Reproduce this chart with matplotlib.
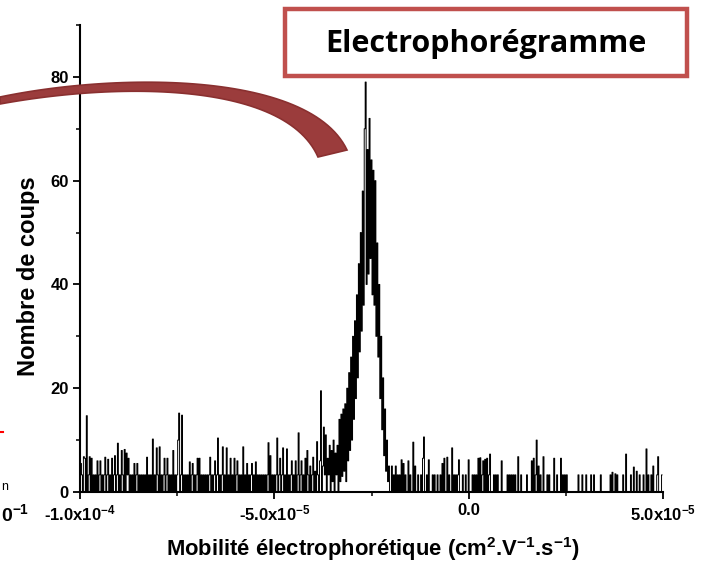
import numpy as np
import matplotlib
matplotlib.use('Agg')
from matplotlib import pyplot as plt
from matplotlib.patches import Polygon, Rectangle
from matplotlib.ticker import MultipleLocator, FixedLocator, FixedFormatter

W, H = 715, 567

# histogram bins of electrophoretic mobility (cm2.V-1.s-1)
MOB_START = -1.0e-4
MOB_STEP = 2.5e-7

# counts, one value per bin, split by region
counts_left = [
    0, 5.5, 3.3, 0, 6.8, 6.5, 0, 14.7, 0, 3.3, 6.8, 0, 6.5, 0, 3.3, 0, 3.3, 0, 6, 0,
    3.3, 6, 0, 3.3, 0, 3.3, 6.7, 0, 3.3, 6.3, 0, 3.3, 0, 6.5, 0, 3.3, 7, 0, 3.3, 9.4,
    0, 3.3, 0, 8, 3.3, 0, 8.2, 0, 7.5, 3.3, 6.5, 0, 3.3, 0, 3.3, 0, 5.5, 0, 3.3, 5.5,
    0, 3.3, 0, 3.3, 0, 3.3, 0, 3.3, 0, 6.7, 0, 3.3, 0, 3.3, 0, 10.2, 0, 3.3, 0, 8.5,
    3.3, 0, 8.7, 0, 3.3, 0, 3.3, 6.5, 0, 3.3, 6.5, 0, 3.3, 0, 3.3, 0, 8, 0, 3.3, 0,
    3.3, 10, 15.2, 0, 3.3, 14.8, 0, 3.3, 0, 3.3, 0, 3.3, 0, 5.8, 0, 3.3, 5.5, 0, 3.3, 0,
    3.3, 6.5, 0, 6.5, 0, 3.3, 0, 3.3, 0, 3.3, 0, 3.3, 0, 3.3, 6.7, 0, 3.3, 0, 3.3, 6,
    0, 3.3, 10.4, 0, 3.3, 0, 3.3, 8.7, 0, 3.3, 0, 8.5, 0, 3.3, 0, 6.5, 0, 3.3, 0, 6.5,
    0, 3.3, 6, 0, 3.3, 0, 3.3, 0, 8.7, 0, 3.3, 0, 5.5, 0, 3.3, 0, 3.3, 5.5, 0, 3.3,
    0, 5.8, 0, 3.3, 0, 3.3, 0, 3.3, 0, 3.3, 0, 3.3, 0, 3.3, 9.5, 0, 7, 0, 3.3, 0,
    3.3, 0, 3.3, 10.4, 0, 3.3, 6.5, 0, 3.3, 8.5, 0, 3.3, 0, 8.3, 0, 3.3, 0, 3.3, 6, 0,
]
counts_rise = [
    3.3, 0, 6, 0, 3.3, 11.4, 0, 3.3, 6, 0, 3.3, 0, 6.5, 0, 8, 3.3, 0, 5, 0, 3.3,
    6.7, 0, 4, 0, 9.7, 3.3, 0, 6, 19.5, 0, 5, 12.5, 3.3, 11, 0, 6.5, 3.3, 9, 0, 8,
    2, 10, 0, 7.5, 3.3, 9, 0, 14, 2, 15,
]
counts_peak = [
    3, 16, 4, 17, 2, 20, 6, 23, 8, 26, 10, 30, 14, 33, 18, 38, 22, 44, 27, 50,
    31, 58, 36, 70, 79, 40, 66, 42, 72, 45, 64, 38, 62, 36, 60, 30, 48, 26, 40, 18,
    30, 12, 22, 7, 16, 4, 10, 2, 5, 0,
]
counts_right = [
    0, 5, 0, 3.3, 0, 5, 0, 3.3, 0, 3.3, 0, 6.2, 0, 5.5, 0, 3.3, 0, 0, 6, 0,
    3.3, 0, 0, 9.6, 0, 5, 0, 0, 3.3, 0, 0, 3.3, 0, 6.5, 10.6, 0, 0, 3.3, 0, 6.2,
    0, 0, 0, 3.3, 0, 3.3, 0, 0, 3.3, 0, 0, 3.3, 0, 5.5, 0, 6.5, 0, 0, 6.7, 0,
    3.3, 0, 0, 8.5, 0, 3.3, 0, 3.3, 0, 3.3, 6.2, 0, 0, 0, 3.3, 0, 0, 3.3, 0, 0,
    6.2, 0, 0, 0, 3.3, 0, 3.3, 0, 3.3, 0, 6.5, 0, 6.6, 0, 3.3, 6, 0, 6.3, 0, 6.5,
    0, 3.3, 7.3, 0, 0, 0, 3.3, 0, 3.3, 0, 3.3, 0, 0, 0, 6, 0, 0, 0, 0, 0,
    3.3, 0, 3.3, 0, 3.3, 0, 3.3, 0, 3.3, 0, 0, 6.8, 0, 0, 3.3, 0, 0, 0, 0, 0,
    3.3, 0, 0, 0, 0, 6, 0, 6.5, 0, 3.3, 10, 0, 5, 0, 3.3, 0, 0, 6.8, 0, 0,
    0, 3.3, 0, 3.3, 0, 0, 0, 0, 6.5, 0, 0, 3.3, 0, 0, 0, 6.5, 0, 3.3, 0, 3.3,
    0, 3.3, 0, 0, 0, 0, 0, 0, 0, 0, 0, 0, 0, 3.3, 0, 0, 0, 3.3, 0, 0,
    0, 3.3, 0, 0, 0, 0, 3.3, 0, 0, 3.3, 0, 0, 0, 0, 0, 0, 3.3, 0, 0, 0,
    0, 0, 0, 0, 0, 0, 3.3, 0, 3.8, 0, 0, 3.5, 0, 3.3, 0, 0, 0, 0, 0, 3.3,
    0, 0, 7.3, 0, 0, 0, 0, 3.3, 0, 0, 4.8, 0, 0, 4, 0, 0, 3.3, 0, 0, 0,
    3.3, 0, 0, 8.3, 0, 3.3, 0, 0, 3.3, 0, 5, 0, 0, 0, 3.3, 6.8, 0, 0, 0, 3.3,
]

xtick_vals = [-1.0e-4, -5.0e-5, 0.0, 5.0e-5]
xtick_labels = [r'-1.0x10$^{-4}$', r'-5.0x10$^{-5}$', '0.0', r'5.0x10$^{-5}$']
ytick_vals = [0, 20, 40, 60, 80]

TITLE = 'Electrophorégramme'
XLABEL = r'Mobilité électrophorétique (cm$^{2}$.V$^{-1}$.s$^{-1}$)'
YLABEL = 'Nombre de coups'


def fig_xy(x, y):
    """pixel position (from top left) -> figure fraction"""
    return x / W, 1 - y / H


def bezier(p0, p1, p2, p3, n=60):
    t = np.linspace(0, 1, n)[:, None]
    p0, p1, p2, p3 = (np.array(p) for p in (p0, p1, p2, p3))
    return ((1 - t) ** 3 * p0 + 3 * (1 - t) ** 2 * t * p1
            + 3 * (1 - t) * t ** 2 * p2 + t ** 3 * p3)


def _main():
    plt.rcParams['font.family'] = ['Liberation Sans', 'DejaVu Sans']
    plt.rcParams['font.weight'] = 'bold'
    plt.rcParams['mathtext.fontset'] = 'custom'
    plt.rcParams['mathtext.rm'] = 'Liberation Sans:bold'
    plt.rcParams['mathtext.bf'] = 'Liberation Sans:bold'
    plt.rcParams['mathtext.default'] = 'bf'

    counts = counts_left + counts_rise + counts_peak + counts_right
    mob = MOB_START + MOB_STEP * np.arange(len(counts))

    fig = plt.figure(figsize=(W / 100, H / 100), dpi=100)
    l, b = fig_xy(80, 492)
    r, t = fig_xy(663, 25)
    ax = fig.add_axes([l, b, r - l, t - b])

    ax.plot(mob, counts, color='black', lw=0.7, drawstyle='steps-mid')

    ax.set_xlim(-1.0e-4, 5.0e-5)
    ax.set_ylim(0, 90)
    for side in ('top', 'right'):
        ax.spines[side].set_visible(False)
    for side in ('left', 'bottom'):
        ax.spines[side].set_linewidth(1.5)

    ax.xaxis.set_major_locator(FixedLocator(xtick_vals))
    ax.xaxis.set_major_formatter(FixedFormatter(xtick_labels))
    ax.xaxis.set_minor_locator(MultipleLocator(2.5e-5))
    ax.yaxis.set_major_locator(FixedLocator(ytick_vals))
    ax.yaxis.set_minor_locator(MultipleLocator(10))
    ax.tick_params(which='major', length=5, width=1.3, labelsize=12, pad=3)
    ax.tick_params(which='minor', length=3, width=1.1)
    for lab in ax.get_xticklabels() + ax.get_yticklabels():
        lab.set_fontweight('bold')

    fig.text(*fig_xy(373, 549), XLABEL, ha='center', va='center',
             fontsize=15.8, fontweight='bold')
    fig.text(*fig_xy(28, 276), YLABEL, ha='center', va='center',
             rotation=90, fontsize=17, fontweight='bold')

    # curved arrow-like band drawn over the plot
    upper = bezier((0, 97), (120, 72), (310, 72), (347, 150))
    lower = bezier((0, 104), (120, 82), (285, 82), (318, 157))
    pts = np.vstack([upper, lower[::-1]])
    pts = np.array([fig_xy(x, y) for x, y in pts])
    band = Polygon(pts, closed=True, transform=fig.transFigure,
                   facecolor='#9b3c3c', edgecolor='#8a3030', lw=1.2, zorder=5)
    fig.add_artist(band)

    # title box
    x0, y0 = fig_xy(285, 76)
    x1, y1 = fig_xy(687, 9)
    box = Rectangle((x0, y0), x1 - x0, y1 - y0, transform=fig.transFigure,
                    facecolor='white', edgecolor='#c0504d', lw=3.2, zorder=5)
    fig.add_artist(box)
    fig.text(*fig_xy(486, 44), TITLE, ha='center', va='center',
             fontsize=22, fontweight='bold', family='Open Sans', zorder=6)

    # pieces of the neighbouring panel seen at the left edge
    fig.text(*fig_xy(1, 514), r'0$^{-1}$', ha='left', va='center',
             fontsize=14, fontweight='bold')
    fig.text(*fig_xy(1, 487), 'n', ha='left', va='center',
             fontsize=9, fontweight='normal')
    fig.add_artist(plt.Line2D([0, 3 / W], [1 - 432 / H] * 2,
                              transform=fig.transFigure, color='red', lw=1.5))

    fig.savefig('out.png', dpi=100)


if __name__ == '__main__':
    _main()
